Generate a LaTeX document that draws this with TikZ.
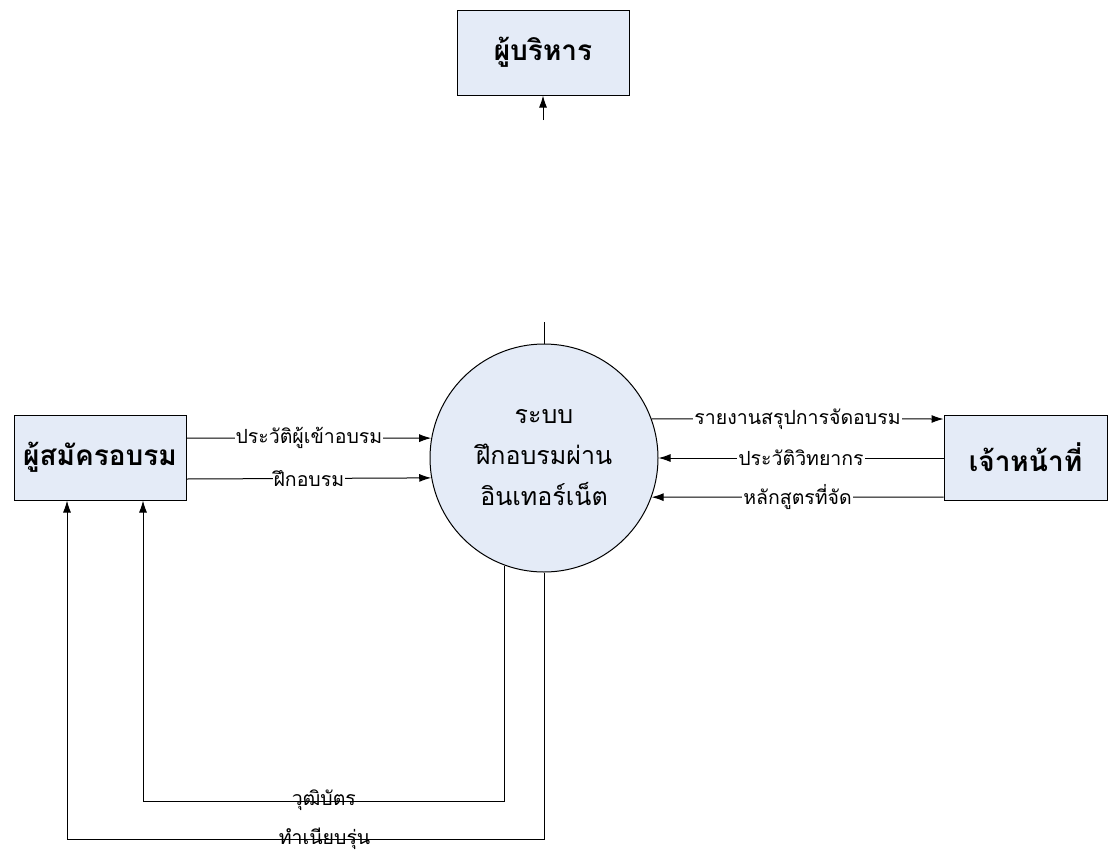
\documentclass[tikz,border=0pt]{standalone}
\usepackage{fontspec}
\setmainfont[Script=Thai]{Loma}
\usetikzlibrary{arrows.meta}
\definecolor{boxfill}{RGB}{228,235,247}

\begin{document}
\begin{tikzpicture}[x=1pt,y=-1pt,line width=1pt,
  ent/.style={draw,fill=boxfill,minimum width=172pt,minimum height=85pt,inner sep=0pt,font=\fontsize{28}{30}\selectfont\bfseries},
  proc/.style={draw,circle,fill=boxfill,minimum size=228pt,inner sep=0pt,align=center,font=\fontsize{25}{41}\selectfont},
  lbl/.style={fill=white,inner sep=1pt,font=\fontsize{19.5}{22}\selectfont},
  lblb/.style={inner sep=0pt,font=\fontsize{19.5}{22}\selectfont},
  flow/.style={-{Latex[length=12pt,width=8pt]}}]
\useasboundingbox (0,0) rectangle (1108,854);

\node[ent] (boss) at (543,52.5) {ผู้บริหาร};
\node[ent] (app) at (100,457.5) {ผู้สมัครอบรม};
\node[ent,minimum width=163pt] (staff) at (1025.5,457.5) {เจ้าหน้าที่};
\node[proc] (sys) at (544,458) {ระบบ\\ฝึกอบรมผ่าน\\อินเทอร์เน็ต};

\coordinate (bossin) at (543,120);
\coordinate (sysout) at (544,322);
\coordinate (cert) at (143,801);
\coordinate (alum) at (67,839);

\draw [flow] (bossin) -- (boss);
\draw (sys.north) -- (sysout);

\draw [flow] (app.east |- 0,438) -- node [lbl] {ประวัติผู้เข้าอบรม} (sys.170);
\draw [flow] (app.east |- 0,479) -- node [lbl] {ฝึกอบรม} (sys.190.6);

\draw [flow] (sys.20) -- node [lbl] {รายงานสรุปการจัดอบรม} (staff.west |- 0,419);
\draw [flow] (staff.west |- 0,458) -- node [lbl] {ประวัติวิทยากร} (sys.0);
\draw [flow] (staff.west |- 0,497) -- node [lbl] {หลักสูตรที่จัด} (sys.-20);

\draw [flow] (sys.250) |- node [lblb,pos=0.75,anchor=base,yshift=-4pt] {วุฒิบัตร} (cert) -- (cert |- app.south);
\draw [flow] (sys.south) |- node [lblb,pos=0.73,anchor=base,yshift=-5pt] {ทำเนียบรุ่น} (alum) -- (alum |- app.south);
\end{tikzpicture}
\end{document}
